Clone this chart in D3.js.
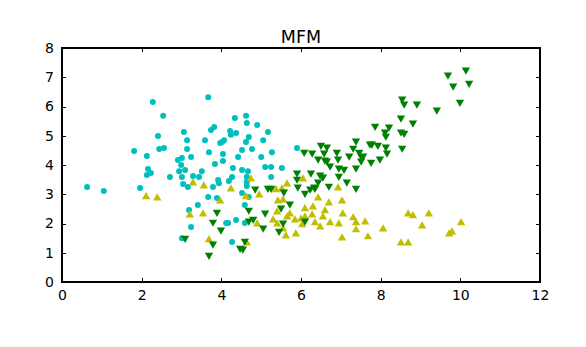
<!DOCTYPE html>
<html>
<head>
<meta charset="utf-8">
<script src="https://cdn.jsdelivr.net/npm/d3@7/dist/d3.min.js"></script>
<style>
  html, body { margin: 0; padding: 0; background: #fff; }
  text { font-family: "DejaVu Sans", sans-serif; }
</style>
</head>
<body>
<svg id="chart" width="586" height="347"></svg>
<script>
const title = "MFM";
const xTicks = [0, 2, 4, 6, 8, 10, 12];
const yTicks = [0, 1, 2, 3, 4, 5, 6, 7, 8];

// cluster 1: cyan circles
const cyanX = [0.63,1.05,1.81,2.13,2.16,2.13,2.23,1.96,2.28,2.54,2.41,2.44,2.56,2.71,2.91,2.99,3.01,2.94,3.01,3.09,3.04,3.16,3.06,3.14,3.14,3.24,3.29,3.44,3.51,3.59,3.69,3.67,3.74,3.82,3.84,3.79,3.67,3.89,3.97,4.02,4.07,4.04,4.04,4.22,4.24,4.37,4.34,4.62,4.64,4.90,5.17,5.05,4.62,4.69,4.77,4.52,4.42,4.29,4.52,4.67,4.64,4.27,4.19,3.92,3.94,5.00,5.10,5.25,5.52,5.27,5.25,4.64,4.64,4.52,4.69,5.90,3.41,3.19,3.24,3.01,4.12,4.17,4.37,4.59,4.59,4.27];
const cyanY = [3.25,3.11,4.48,4.31,3.86,3.66,3.73,3.21,6.15,5.68,4.99,4.55,4.58,3.59,4.17,4.00,4.24,3.79,3.59,3.83,3.35,3.25,5.13,4.85,4.55,4.27,3.62,3.59,3.79,4.85,4.44,6.32,5.20,5.30,4.03,3.25,2.91,2.87,4.75,4.79,4.85,4.38,4.14,5.16,5.03,5.09,5.61,5.68,5.44,5.37,5.13,4.85,4.79,4.96,4.55,4.51,4.27,3.90,3.83,3.79,3.59,3.59,3.45,3.49,3.38,4.27,3.93,3.93,3.90,4.44,3.59,3.42,3.28,3.04,2.91,4.58,2.63,2.46,1.88,1.50,2.02,2.02,2.12,2.02,2.63,1.37];

// cluster 2: yellow up-triangles
const yellowX = [2.11,2.39,3.29,3.56,3.21,3.54,3.69,4.24,3.97,4.74,4.95,4.62,4.64,5.37,5.52,5.65,6.05,5.42,5.55,5.40,5.30,4.90,5.40,5.55,5.62,5.87,5.65,5.72,5.85,6.00,6.03,6.10,6.30,6.28,6.10,6.43,6.70,7.03,6.93,6.60,6.55,6.35,6.48,6.73,6.95,7.05,7.31,7.38,7.61,7.38,7.03,7.68,8.06,8.69,8.81,9.21,9.04,8.51,8.69,9.72,9.79,10.02];
const yellowY = [2.91,2.87,3.38,3.28,2.29,2.32,1.44,3.18,2.77,3.52,2.97,2.91,1.33,3.15,3.18,3.35,3.52,2.77,2.80,2.39,2.12,1.98,1.98,1.81,1.57,1.64,2.22,2.32,2.12,2.15,1.95,2.50,2.56,2.29,2.22,2.87,2.70,2.77,3.21,2.43,2.22,2.02,1.88,2.02,1.98,2.32,2.19,2.02,2.05,1.78,1.50,1.54,1.81,2.32,2.26,2.32,1.91,1.33,1.33,1.64,1.71,2.02];

// cluster 3: green down-triangles
const greenX = [9.69,10.14,9.82,10.22,9.99,9.41,8.54,8.59,8.91,8.51,8.81,8.51,8.59,8.54,7.86,8.21,8.11,8.13,7.38,7.31,7.73,7.78,7.93,8.13,8.16,7.98,7.76,7.53,7.46,7.51,7.38,7.21,7.15,7.38,6.08,6.28,6.50,6.65,6.58,6.60,6.65,6.43,6.73,6.90,6.93,6.95,7.08,6.95,6.25,6.48,6.55,6.43,6.33,6.23,6.10,6.70,5.90,5.90,5.92,5.25,5.57,5.50,5.72,6.10,5.55,5.45,4.85,5.17,6.35,3.89,3.79,3.99,3.09,3.79,3.69,4.59,4.47,4.54,4.69,4.80,4.69,5.05,5.10,7.56];
const greenY = [7.08,7.25,6.70,6.80,6.15,5.88,6.26,6.09,6.09,5.61,5.44,5.13,5.09,4.58,5.33,5.30,5.13,4.99,4.82,4.58,4.72,4.72,4.68,4.62,4.41,4.21,4.10,4.27,4.44,4.14,3.90,4.31,3.42,3.21,4.44,4.41,4.68,4.62,4.41,4.17,4.14,4.21,3.97,4.44,4.21,3.90,3.86,3.62,3.73,3.66,3.59,3.42,3.25,3.18,3.04,3.28,3.73,3.52,3.25,3.21,3.08,2.53,2.67,2.09,2.02,1.74,3.18,3.21,3.21,2.39,2.05,1.78,1.50,1.30,0.92,1.40,1.16,1.13,2.46,2.15,2.09,1.85,2.36,4.31];

const W = 586, H = 347;
const m = { left: 62, right: 540, top: 48, bottom: 282 };
const svg = d3.select("#chart");

const x = d3.scaleLinear().domain([0, 12]).range([m.left, m.right]);
const y = d3.scaleLinear().domain([0, 8]).range([m.bottom, m.top]);

// title
svg.append("text").attr("x", (m.left + m.right) / 2).attr("y", 43)
  .attr("text-anchor", "middle").attr("font-size", 17.5).text(title);

const plot = svg.append("g");

function pts(xs, ys) { return xs.map((v, i) => [v, ys[i]]); }

// cyan circles
plot.selectAll("circle.c").data(pts(cyanX, cyanY)).join("circle")
  .attr("cx", d => x(d[0])).attr("cy", d => y(d[1])).attr("r", 3)
  .attr("fill", "#00BFBF");

const tri = d3.symbol().type(d3.symbolTriangle).size(30);

plot.selectAll("path.y").data(pts(yellowX, yellowY)).join("path")
  .attr("d", tri)
  .attr("transform", d => `translate(${x(d[0])},${y(d[1])})`)
  .attr("fill", "#BFBF00");

plot.selectAll("path.g").data(pts(greenX, greenY)).join("path")
  .attr("d", tri)
  .attr("transform", d => `translate(${x(d[0])},${y(d[1])}) rotate(180)`)
  .attr("fill", "#008000");

// axes (ticks inward)
const axB = d3.axisBottom(x).tickValues(xTicks).tickSize(-4).tickPadding(8).tickFormat(d3.format("d"));
const axT = d3.axisTop(x).tickValues(xTicks).tickSize(-4).tickFormat("");
const axL = d3.axisLeft(y).tickValues(yTicks).tickSize(-4).tickPadding(8).tickFormat(d3.format("d"));
const axR = d3.axisRight(y).tickValues(yTicks).tickSize(-4).tickFormat("");

function style(g) {
  g.select(".domain").remove();
  g.selectAll(".tick line").attr("stroke", "#000").attr("shape-rendering", "crispEdges");
  g.selectAll(".tick text").attr("font-size", 14).attr("fill", "#000")
    .attr("font-family", "DejaVu Sans, sans-serif");
}
svg.append("g").attr("transform", `translate(0,${m.bottom})`).call(axB).call(style);
svg.append("g").attr("transform", `translate(0,${m.top})`).call(axT).call(style);
svg.append("g").attr("transform", `translate(${m.left},0)`).call(axL).call(style);
svg.append("g").attr("transform", `translate(${m.right},0)`).call(axR).call(style);

svg.append("rect").attr("x", m.left).attr("y", m.top)
  .attr("width", m.right - m.left).attr("height", m.bottom - m.top)
  .attr("fill", "none").attr("stroke", "#000").attr("stroke-width", 1.2)
  .attr("shape-rendering", "crispEdges");
</script>
</body>
</html>
